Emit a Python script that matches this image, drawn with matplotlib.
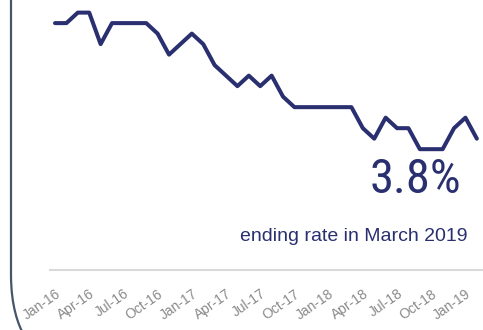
import matplotlib.pyplot as plt
import numpy as np
from matplotlib.path import Path
from matplotlib.patches import PathPatch

# monthly unemployment rate, Jan 2016 onward (%)
rate = [4.9, 4.9, 5.0, 5.0, 4.7, 4.9, 4.9, 4.9, 4.9, 4.8, 4.6, 4.7,
        4.8, 4.7, 4.5, 4.4, 4.3, 4.4, 4.3, 4.4, 4.2, 4.1, 4.1, 4.1,
        4.1, 4.1, 4.1, 3.9, 3.8, 4.0, 3.9, 3.9, 3.7, 3.7, 3.7, 3.9,
        4.0, 3.8]
tick_labels = ['Jan-16', 'Apr-16', 'Jul-16', 'Oct-16', 'Jan-17', 'Apr-17',
               'Jul-17', 'Oct-17', 'Jan-18', 'Apr-18', 'Jul-18', 'Oct-18',
               'Jan-19']
tick_step = 3
ending_rate = 3.8
ending_label = 'ending rate in March 2019'

navy = '#2a2f70'
sans = ['Liberation Sans', 'DejaVu Sans']
narrow = ['Roboto Condensed', 'Liberation Sans', 'DejaVu Sans']

W, H, dpi = 483, 330, 100
fig = plt.figure(figsize=(W / dpi, H / dpi), dpi=dpi)
fig.patch.set_facecolor('white')

ax = fig.add_axes([50 / W, 60 / H, 433 / W, 270 / H])
months = np.arange(len(rate))
ax.plot(months, rate, color=navy, lw=2.9, solid_joinstyle='round',
        solid_capstyle='round')
ax.set_xlim(-0.44, 37.54)
ax.set_ylim(2.55, 5.12)

for s in ['top', 'right', 'left']:
    ax.spines[s].set_visible(False)
ax.spines['bottom'].set_color('#d9d9d9')
ax.spines['bottom'].set_linewidth(1.5)
ax.set_yticks([])
ax.set_xticks(months[::tick_step][:len(tick_labels)])
ax.set_xticklabels(tick_labels, rotation=35, ha='right', rotation_mode='anchor',
                   color='#8a8a8a', fontsize=10, family=sans)
ax.tick_params(axis='x', length=0, pad=12)

# headline value and caption
fig.text(461 / W, 1 - 193 / H, f'{ending_rate}%', ha='right', va='baseline',
         fontsize=35, color=navy, family=narrow)
fig.text(467 / W, 1 - 241 / H, ending_label, ha='right', va='baseline',
         fontsize=14, color=navy, family=sans)

# rounded card border on the left
verts = [(11 / W, 1.0), (11 / W, 1 - 275 / H),
         (11 / W, 1 - 305 / H), (18 / W, 1 - 325 / H), (24 / W, 1 - 335 / H)]
codes = [Path.MOVETO, Path.LINETO, Path.CURVE4, Path.CURVE4, Path.CURVE4]
fig.add_artist(PathPatch(Path(verts, codes), fill=False, edgecolor='#46556a',
                         lw=1.6, transform=fig.transFigure))

fig.savefig('out.png', dpi=dpi)
